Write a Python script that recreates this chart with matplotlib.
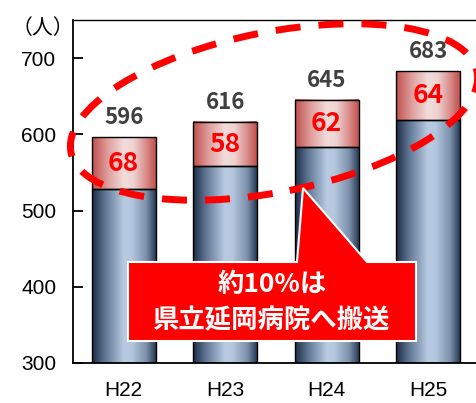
import numpy as np
import matplotlib
matplotlib.use("Agg")
import matplotlib.pyplot as plt
from matplotlib.patches import Ellipse, Polygon, Rectangle
from matplotlib.colors import LinearSegmentedColormap
from matplotlib.transforms import IdentityTransform

categories = ["H22", "H23", "H24", "H25"]
totals = [596, 616, 645, 683]
transferred = [68, 58, 62, 64]
others = [t - r for t, r in zip(totals, transferred)]
yticks = [300, 400, 500, 600, 700]
callout_lines = ["約10%は", "県立延岡病院へ搬送"]

plt.rcParams['font.family'] = ['Noto Sans CJK JP', 'DejaVu Sans']

W, H = 477, 403
fig = plt.figure(figsize=(W / 100, H / 100), dpi=100)
ax = fig.add_axes([73 / W, 40 / H, 406 / W, 343 / H])
ax.set_xlim(-0.5, 3.5)
ax.set_ylim(300, 750)

blue_cmap = LinearSegmentedColormap.from_list(
    "b", [(0, "#1c2c44"), (0.2, "#5f7593"), (0.5, "#b8cbe3"), (0.62, "#b4c7df"),
          (0.85, "#7c90ab"), (1, "#273a55")])
red_cmap = LinearSegmentedColormap.from_list(
    "r", [(0, "#c0504d"), (0.25, "#df9f9d"), (0.5, "#f2dcdb"), (0.65, "#efd3d2"),
          (0.85, "#d88c8a"), (1, "#c0504d")])
grad = np.linspace(0, 1, 256).reshape(1, -1)

bw = 0.63
for i, (o, r) in enumerate(zip(others, transferred)):
    x0, x1 = i - bw / 2, i + bw / 2
    ax.imshow(grad, cmap=blue_cmap, extent=[x0, x1, 300, o], aspect='auto', zorder=2,
              interpolation='bilinear')
    ax.imshow(grad, cmap=red_cmap, extent=[x0, x1, o, o + r], aspect='auto', zorder=2,
              interpolation='bilinear')
    ax.add_patch(Rectangle((x0, 300), bw, o - 300, fill=False, ec="black", lw=1.0, zorder=3))
    ax.add_patch(Rectangle((x0, o), bw, r, fill=False, ec="black", lw=1.0, zorder=3))
    ax.text(i, o + r / 2, str(r), ha='center', va='center', color='#ff0000',
            fontsize=19, fontweight='bold', zorder=4)
    ax.annotate(str(o + r), (i, o + r), xytext=(0, 6), textcoords='offset points',
                ha='center', va='bottom', color='#404040', fontsize=16,
                fontweight='bold', zorder=4)

ax.set_xlim(-0.5, 3.5)
ax.set_ylim(300, 750)
ax.set_xticks(range(len(categories)))
ax.set_xticklabels(categories, fontsize=15, family=['Liberation Sans'])
ax.set_yticks(yticks)
ax.set_yticklabels([str(v) for v in yticks], fontsize=15, family=['Liberation Sans'])
ax.tick_params(axis='x', length=0, pad=13)
ax.tick_params(axis='y', direction='in', length=7, width=1.3, pad=12)
ax.spines['right'].set_visible(False)
for s in ['left', 'bottom', 'top']:
    ax.spines[s].set_linewidth(1.3)
ax.spines['top'].set_linewidth(1.0)

fig.text(12 / W, 1 - 28 / H, "（人）", fontsize=15, va='center', ha='left')

# dashed ellipse (display pixel coords)
ell = Ellipse((274, H - 112), 414, 160, angle=11.25, fill=False, ec='#ff0000',
              lw=5, linestyle=(0, (3.6, 2.6)), transform=IdentityTransform(), zorder=6)
ell.set_capstyle('butt')
fig.add_artist(ell)

# callout
pts = [(128, 262), (297, 262), (303, 188), (367, 262), (416, 262), (416, 341), (128, 341)]
poly = Polygon([(x, H - y) for x, y in pts], closed=True, fc='#ff0000', ec='white',
               lw=1.5, transform=IdentityTransform(), zorder=7)
fig.add_artist(poly)
fig.text(272 / W, 1 - 285 / H, callout_lines[0], color='white', fontsize=19,
         fontweight='bold', ha='center', va='center', zorder=8)
fig.text(271 / W, 1 - 321 / H, callout_lines[1], color='white', fontsize=19,
         fontweight='bold', ha='center', va='center', zorder=8)

fig.savefig("out.png", dpi=100)
